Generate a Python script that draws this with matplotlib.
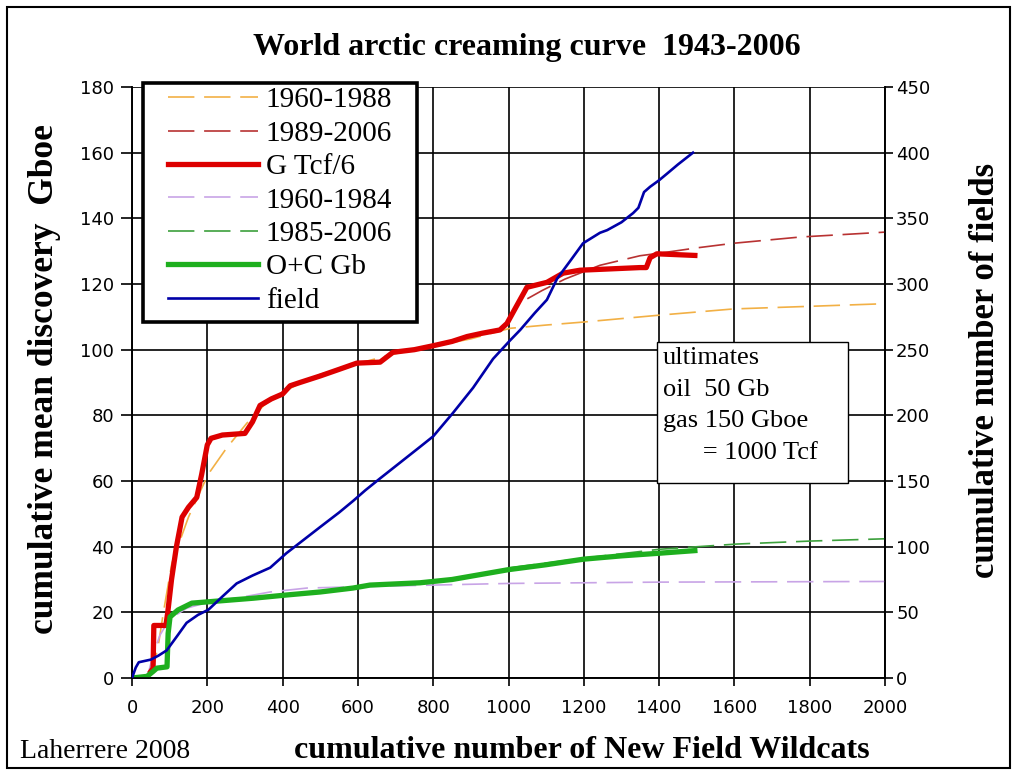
import matplotlib
matplotlib.use("Agg")
import matplotlib.pyplot as plt
from matplotlib.patches import Rectangle

# ---- data -------------------------------------------------------------
# G Tcf/6 (cumulative gas discovery, Gboe)
gas_x = [50, 56, 58, 90, 95, 105, 118, 133, 150, 172, 185, 200, 210, 240, 300,
         320, 340, 370, 400, 420, 446, 500, 550, 597, 659, 693, 750, 800, 850,
         890, 930, 977, 996, 1020, 1049, 1102, 1145, 1190, 1250, 1349, 1366,
         1376, 1394, 1495]
gas_y = [2, 3, 16, 16, 20, 30, 40, 49, 52, 55, 62, 71, 73, 74, 74.5,
         78, 83, 85, 86.5, 89, 90, 92, 94, 95.9, 96.2, 99.2, 100, 101.2, 102.5,
         104, 105, 106, 108, 113, 119, 120.5, 123.3, 124.2, 124.5, 125, 125,
         128, 129.2, 128.7]

# gas fit 1960-1988
gas_fit1_x = [45, 60, 70, 83, 106, 150, 202, 251, 305, 350, 400, 450, 500, 600,
              700, 800, 900, 1004, 1100, 1198, 1400, 1597, 1800, 2000]
gas_fit1_y = [0, 5, 10, 19.7, 35, 49, 62, 70, 77.6, 83, 87, 90, 92.5, 95.8,
              98.8, 101, 103.3, 106.5, 107.5, 108.4, 110.5, 112.4, 113.2, 114]

# gas fit 1989-2006
gas_fit2_x = [1050, 1089, 1150, 1243, 1349, 1421, 1500, 1597, 1774, 2000]
gas_fit2_y = [115.5, 118, 121.5, 125.7, 128.6, 129.7, 131, 132.4, 134.3, 135.8]

# O+C Gb (cumulative oil + condensate discovery)
oil_x = [0, 40, 56, 66, 93, 96, 101, 122, 159, 202, 322, 412, 500, 587, 632,
         765, 850, 900, 1000, 1100, 1200, 1300, 1400, 1495]
oil_y = [0, 0.5, 2, 3, 3.4, 13.6, 18.6, 20.7, 22.8, 23.2, 24.3, 25.3, 26.2,
         27.4, 28.3, 29, 30, 31, 33, 34.5, 36.2, 37.2, 38, 38.8]

# oil fit 1960-1984
oil_fit1_x = [40, 56, 74, 100, 146, 200, 300, 367, 465, 600, 800, 1000, 1400, 2000]
oil_fit1_y = [0, 7, 13, 18, 21.3, 23, 24.8, 26.2, 27.4, 27.8, 28.3, 28.8, 29.2, 29.4]

# oil fit 1985-2006
oil_fit2_x = [1000, 1200, 1400, 1607, 1800, 2000]
oil_fit2_y = [33.5, 36.5, 39.2, 40.8, 41.7, 42.4]

# cumulative number of fields (right axis)
field_x = [0, 10, 18, 50, 70, 92, 120, 145, 175, 203, 240, 278, 320, 367, 410,
           455, 500, 550, 588, 620, 659, 712, 765, 800, 853, 906, 959, 1004,
           1031, 1070, 1102, 1129, 1165, 1198, 1243, 1262, 1300, 1331, 1345,
           1360, 1376, 1400, 1421, 1450, 1490]
field_y = [0, 8, 12, 14, 17, 21, 32, 42, 48, 52, 62, 72, 78, 84, 95,
           105, 115, 126, 135, 143, 152, 164, 176, 184, 202, 221, 243, 257,
           265, 278, 288, 304, 318, 331, 339, 341, 347, 354, 358,
           370, 374, 379, 384, 391, 400]

x_ticks = list(range(0, 2001, 200))
left_ticks = list(range(0, 181, 20))
right_ticks = list(range(0, 451, 50))

# ---- figure -----------------------------------------------------------
W, H = 1016, 773
plt.rcParams["lines.scale_dashes"] = False
fig = plt.figure(figsize=(W / 100, H / 100), dpi=100)


def fx(px):
    return px / W


def fy(py):
    return 1 - py / H


ax_l, ax_r, ax_t, ax_b = 132, 885, 87, 678
ax = fig.add_axes([fx(ax_l), fy(ax_b), (ax_r - ax_l) / W, (ax_b - ax_t) / H])
ax2 = ax.twinx()

SERIF = "Liberation Serif"
dash = (19, 7)

l_g1, = ax.plot(gas_fit1_x, gas_fit1_y, color="#F2B045", lw=1.2, dashes=dash,
                label="1960-1988", zorder=3)
l_g2, = ax.plot(gas_fit2_x, gas_fit2_y, color="#B83232", lw=1.2, dashes=dash,
                label="1989-2006", zorder=3)
l_o1, = ax.plot(oil_fit1_x, oil_fit1_y, color="#C8A4E6", lw=1.2, dashes=dash,
                label="1960-1984", zorder=3)
l_o2, = ax.plot(oil_fit2_x, oil_fit2_y, color="#3CA03C", lw=1.2, dashes=dash,
                label="1985-2006", zorder=3)
l_gas, = ax.plot(gas_x, gas_y, color="#DD0000", lw=3.8, label="G Tcf/6",
                 zorder=4, solid_joinstyle="round")
l_oil, = ax.plot(oil_x, oil_y, color="#1EAF1E", lw=3.8, label="O+C Gb",
                 zorder=4, solid_joinstyle="round")
l_fld, = ax2.plot(field_x, field_y, color="#0000A8", lw=1.9, label="field",
                  zorder=5)

ax.set_xlim(0, 2000)
ax.set_ylim(0, 180)
ax2.set_ylim(0, 450)
ax.set_xticks(x_ticks)
ax.set_yticks(left_ticks)
ax2.set_yticks(right_ticks)

ax.grid(True, color="black", lw=1.2)
ax.set_axisbelow(True)

for a in (ax, ax2):
    for s in a.spines.values():
        s.set_color("black")
        s.set_linewidth(1.2)
    a.spines["top"].set_visible(False)

ax.tick_params(axis="x", direction="out", length=6, width=1.2, pad=9,
               labelsize=13)
ax.tick_params(axis="y", direction="out", length=8, width=1.2, pad=5,
               labelsize=13)
ax2.tick_params(axis="y", direction="out", length=6, width=1.2, pad=2,
                labelsize=13)

# legend with a heavy frame
handles = [l_g1, l_g2, l_gas, l_o1, l_o2, l_oil, l_fld]
leg = fig.legend(handles=handles, labels=[h.get_label() for h in handles],
                 loc="upper left", bbox_to_anchor=(fx(168), fy(87)),
                 frameon=False, borderpad=0, borderaxespad=0,
                 handlelength=3.1, handletextpad=0.25, labelspacing=0.24,
                 prop={"family": SERIF, "size": 21})
fig.add_artist(Rectangle((fx(143), fy(322)), (417 - 143) / W, (322 - 83) / H,
                         transform=fig.transFigure, fill=True, fc="white",
                         ec="black", lw=2.6, zorder=2))
leg.set_zorder(3)

# ultimates note
fig.add_artist(Rectangle((fx(657), fy(483)), (848 - 657) / W, (483 - 342) / H,
                         transform=fig.transFigure, fc="white", ec="black",
                         lw=1.0, zorder=2))
fig.text(fx(663), fy(347), "ultimates\noil  50 Gb\ngas 150 Gboe\n      = 1000 Tcf",
         ha="left", va="top", family=SERIF, fontsize=19, linespacing=1.57,
         zorder=3)

# titles and labels
fig.text(fx(527), fy(47), "World arctic creaming curve  1943-2006",
         ha="center", va="center", family=SERIF, weight="bold", fontsize=23)
fig.text(fx(45), fy(379), "cumulative mean discovery  Gboe", rotation=90,
         ha="center", va="center", family=SERIF, weight="bold", fontsize=25.5)
fig.text(fx(985), fy(370), "cumulative number of fields", rotation=90,
         ha="center", va="center", family=SERIF, weight="bold", fontsize=25)
fig.text(fx(582), fy(750), "cumulative number of New Field Wildcats",
         ha="center", va="center", family=SERIF, weight="bold", fontsize=23)
fig.text(fx(20), fy(752), "Laherrere 2008", ha="left", va="center",
         family=SERIF, fontsize=20)

# outer frame
fig.add_artist(Rectangle((fx(7), fy(768)), (1010 - 7) / W, (768 - 7) / H,
                         transform=fig.transFigure, fill=False, ec="black",
                         lw=1.5))

fig.savefig("out.png", dpi=100)
